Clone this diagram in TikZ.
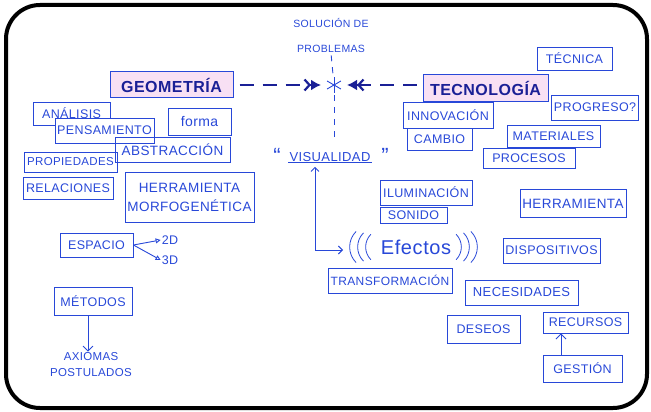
\documentclass[tikz,border=0pt]{standalone}
\usepackage{fontspec}
\setmainfont{Liberation Sans}[LetterSpace=3]
\usetikzlibrary{arrows.meta}
\usetikzlibrary{calc}

\definecolor{pen}{RGB}{40,72,216}
\definecolor{ink}{RGB}{26,32,150}
\definecolor{rose}{RGB}{248,224,244}

\tikzset{
  box/.style={draw=pen, line width=0.9pt, text=pen, inner sep=2pt,
    font=\fontsize{12.5}{19}\selectfont},
  title/.style={draw=pen, line width=1pt, fill=rose, text=ink, inner sep=2pt,
    font=\fontsize{16}{18}\selectfont\bfseries},
  plain/.style={text=pen, inner sep=1pt, font=\fontsize{12.5}{16}\selectfont},
  pen line/.style={draw=pen, line width=0.9pt},
  link/.style={draw=ink, line width=2.2pt, dash pattern=on 14pt off 9pt,
    -{Straight Barb[length=5pt,width=11pt] Latex[length=10pt,width=11pt]}},
}

\begin{document}
\begin{tikzpicture}[x=1pt, y=-1pt]
    \useasboundingbox (0,0) rectangle (651,412);
    \draw [line width=4pt, rounded corners=34pt] (6,5) rectangle (647,408);

    % centre
    \node [plain, align=center, font=\fontsize{10.5}{25}\selectfont] (solucion) at (331,35) {SOLUCIÓN DE\\PROBLEMAS};
    \coordinate (hub) at (334,85);
    \coordinate (vend) at (334,140);
    \foreach \a in {90,30,150}
        \draw [pen line] (hub) ++(\a:8) -- ++(\a+180:16);
    \draw [pen line, dash pattern=on 6pt off 6pt, shorten <=2pt, shorten >=10pt] (solucion.south) -- (hub);
    \draw [pen line, dash pattern=on 6pt off 6pt, shorten <=10pt] (hub) -- (vend);

    % main concepts
    \node [title, minimum width=123, minimum height=26] (geo) at (171.5,85) {GEOMETRÍA};
    \node [title, minimum width=125, minimum height=27] (tec) at (485.5,88.5) {TECNOLOGÍA};
    \draw [link, shorten <=6pt, shorten >=13pt] (geo) -- (hub);
    \draw [link, shorten <=6pt, shorten >=13pt] (tec.west |- hub) -- (hub);

    % visualidad
    \node [plain, font=\fontsize{13}{16}\selectfont] (visual) at (330,157) {VISUALIDAD};
    \draw [pen line] (visual.south west) -- (visual.south east);
    \node [plain, font=\fontsize{22}{22}\selectfont] (lq) at (277,156) {``};
    \node [plain, font=\fontsize{22}{22}\selectfont] (rq) at (385,156) {''};

    % efectos
    \node [plain, font=\fontsize{20}{22}\selectfont] (efectos) at (416,247) {Efectos};
    \coordinate (vbend) at (315,250);
    \coordinate (efin) at (343,250);
    \draw [pen line, {Straight Barb[length=4pt,width=8pt]}-{Straight Barb[length=4pt,width=8pt]}, shorten <=4pt] (visual.south -| vbend) |- (efin);
    \foreach \r/\d in {22/0, 20/8, 18/16} {
        \draw [pen line, line width=0.8pt] (efectos.west) ++(-30+\d,0) ++(\r,0) ++(135:\r) arc[start angle=135, end angle=225, radius=\r];
        \draw [pen line, line width=0.8pt] (efectos.east) ++(25-\d,0) ++(-\r,0) ++(-45:\r) arc[start angle=-45, end angle=45, radius=\r];
    }

    % geometria side
    \node [box, minimum width=77, minimum height=23] (analisis) at (71.5,113.5) {ANÁLISIS};
    \node [box, minimum width=99, minimum height=25, fill=white] (pensamiento) at (104.5,130.5) {PENSAMIENTO};
    \node [box, minimum width=63, minimum height=27, font=\fontsize{14}{16}\selectfont] (forma) at (199.5,121.5) {forma};
    \node [box, minimum width=115, minimum height=25, font=\fontsize{13.5}{16}\selectfont] (abstraccion) at (172.5,149.5) {ABSTRACCIÓN};
    \node [box, minimum width=93, minimum height=20, font=\fontsize{11.5}{16}\selectfont] (propiedades) at (70.5,162) {PROPIEDADES};
    \node [box, minimum width=90, minimum height=22] (relaciones) at (68,188) {RELACIONES};
    \node [box, minimum width=129, minimum height=50, align=center, font=\fontsize{13.5}{19}\selectfont] (morfo) at (189.5,197) {HERRAMIENTA\\MORFOGENÉTICA};
    \node [box, minimum width=73, minimum height=24] (espacio) at (96.5,245) {ESPACIO};
    \node [plain] (d2) at (170,240) {2D};
    \node [plain] (d3) at (170,260) {3D};
    \draw [pen line, -{Triangle[open,length=5pt,width=5pt]}] (espacio.east) -- (d2.west);
    \draw [pen line, -{Triangle[open,length=5pt,width=5pt]}] (espacio.east) -- (d3.west);
    \node [box, minimum width=78, minimum height=28] (metodos) at (93,301) {MÉTODOS};
    \node [plain, align=center, font=\fontsize{11.5}{16}\selectfont] (axiomas) at (91,365) {AXIOMAS\\POSTULADOS};
    \draw [pen line, -{Straight Barb[length=5pt,width=10pt]}] (metodos.south -| 88,0) -- (axiomas.north -| 88,0);

    % tecnologia side
    \node [box, minimum width=75, minimum height=23] (tecnica) at (574.5,58.5) {TÉCNICA};
    \node [box, minimum width=84, minimum height=25] (progreso) at (595,107.5) {PROGRESO?};
    \node [box, minimum width=90, minimum height=26] (innovacion) at (448,115) {INNOVACIÓN};
    \node [box, minimum width=65, minimum height=22] (cambio) at (439.5,139) {CAMBIO};
    \node [box, minimum width=93, minimum height=22] (materiales) at (553.5,136) {MATERIALES};
    \node [box, minimum width=92, minimum height=20] (procesos) at (529,158) {PROCESOS};
    \node [box, minimum width=92, minimum height=25] (iluminacion) at (426,192.5) {ILUMINACIÓN};
    \node [box, minimum width=67, minimum height=16] (sonido) at (413.5,215) {SONIDO};
    \node [box, minimum width=106, minimum height=28, font=\fontsize{13.5}{16}\selectfont] (herramienta) at (573,203.5) {HERRAMIENTA};
    \node [box, minimum width=97, minimum height=25] (dispositivos) at (551.5,250.5) {DISPOSITIVOS};
    \node [box, minimum width=124, minimum height=25, font=\fontsize{12}{16}\selectfont] (transformacion) at (390,280.5) {TRANSFORMACIÓN};
    \node [box, minimum width=113, minimum height=25, font=\fontsize{13}{16}\selectfont] (necesidades) at (521.5,292.5) {NECESIDADES};
    \node [box, minimum width=73, minimum height=28] (deseos) at (483.5,329) {DESEOS};
    \node [box, minimum width=85, minimum height=21] (recursos) at (585.5,322.5) {RECURSOS};
    \node [box, minimum width=79, minimum height=27] (gestion) at (582.5,368.5) {GESTIÓN};
    \draw [pen line, -{Straight Barb[length=5pt,width=10pt]}] (gestion.north -| 561,0) -- (recursos.south -| 561,0);
\end{tikzpicture}
\end{document}
